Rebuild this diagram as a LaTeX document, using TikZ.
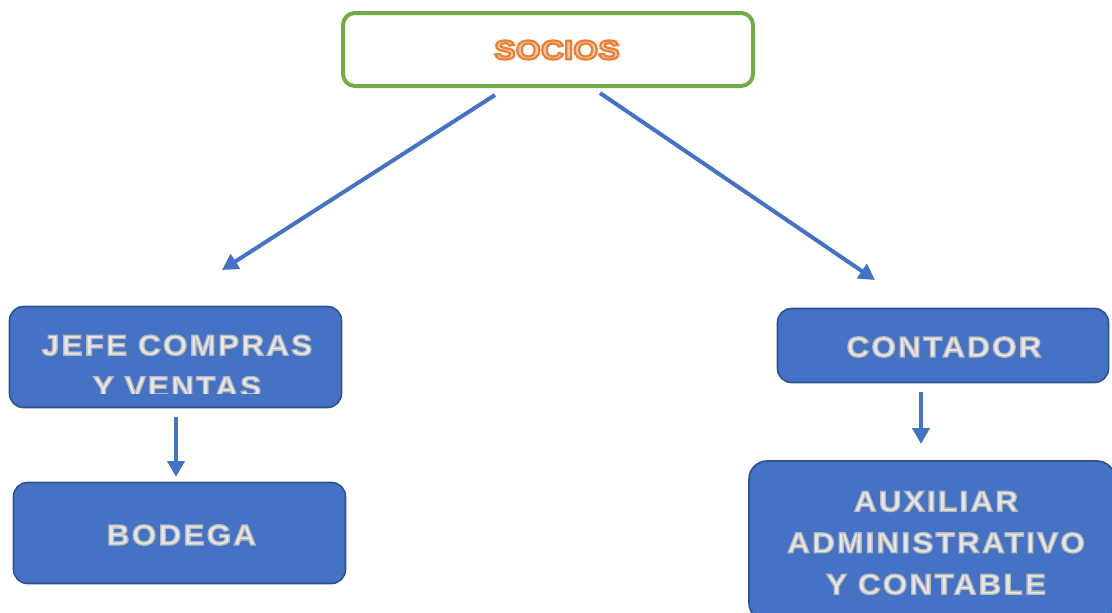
\documentclass[tikz,border=0pt]{standalone}
\usepackage{fontspec}
\setmainfont{Liberation Sans}
\newfontfamily\boxfont[FakeStretch=1.08,LetterSpace=8,
  BoldFont={Liberation Sans Bold},BoldFeatures={FakeStretch=1.08,LetterSpace=8}]{Liberation Sans}
\newfontfamily\sociosfont[FakeStretch=1.18,LetterSpace=1,
  BoldFont={Liberation Sans Bold},BoldFeatures={FakeStretch=1.18,LetterSpace=1}]{Liberation Sans}
\usetikzlibrary{arrows.meta}
\definecolor{boxblue}{HTML}{4472C4}
\definecolor{boxedge}{HTML}{2F528F}
\definecolor{sgreen}{HTML}{70AD47}
\definecolor{speach}{HTML}{F8CBAD}
\definecolor{txtgrey}{HTML}{E7E6E6}
% text drawn filled (current colour) and stroked (given RGB)
\newcommand{\outltxt}[3]{\special{pdf:literal direct 2 Tr #2 w #1 RG}#3\special{pdf:literal direct 0 Tr}}
\begin{document}
\begin{tikzpicture}[x=1pt,y=-1pt,
  bluebox/.style={draw=boxedge, line width=1.6pt, fill=boxblue, rounded corners=14pt,
    minimum width=332pt, minimum height=101pt, inner sep=0pt},
  boxtext/.style={font=\boxfont\bfseries\fontsize{29}{41.5}\selectfont, align=center,
    text=txtgrey, inner sep=0pt},
  conn/.style={draw=boxblue, line width=4pt, -{Triangle[length=16pt,width=17pt]}}]
\useasboundingbox (0,0) rectangle (1112,613);

% SOCIOS
\node[draw=sgreen, line width=4pt, fill=white, rounded corners=12pt,
  minimum width=410pt, minimum height=73pt, inner sep=0pt] (socios) at (548,49.5) {};
\node[font=\sociosfont\bfseries\fontsize{27}{30}\selectfont, text=speach, inner sep=0pt]
  (sociostxt) at (557,50) {\outltxt{0.929 0.490 0.192}{2.2}{SOCIOS}};

% boxes
\node[bluebox] (jefe) at (175.5,357) {};
\node[bluebox] (bodega) at (179.5,533) {};
\node[bluebox, minimum width=331pt, minimum height=74pt] (contador) at (943,345.5) {};
\node[bluebox, rounded corners=18pt, minimum width=366pt, minimum height=160pt] (aux) at (932,541) {};

% texts
\begin{scope}
  \clip (0,0) rectangle (1112,393);
  \node[boxtext] (jefetxt) at (177,366) {\outltxt{0.72 0.72 0.72}{1.3}{JEFE COMPRAS\\Y VENTAS}};
\end{scope}
\node[boxtext] (bodegatxt) at (181.5,535) {\outltxt{0.72 0.72 0.72}{1.3}{BODEGA}};
\node[boxtext] (contadortxt) at (944,347) {\outltxt{0.72 0.72 0.72}{1.3}{CONTADOR}};
\node[boxtext] (auxtxt) at (936,543) {\outltxt{0.72 0.72 0.72}{1.3}{AUXILIAR\\ADMINISTRATIVO\\Y CONTABLE}};

% connectors
\coordinate (a1s) at (495,95);
\coordinate (a1e) at (222,270);
\coordinate (a2s) at (600,93);
\coordinate (a2e) at (875,280);
\coordinate (a3s) at (176,417);
\coordinate (a3e) at (176,477);
\coordinate (a4s) at (921,392);
\coordinate (a4e) at (921,444);
\draw[conn] (a1s) -- (a1e);
\draw[conn] (a2s) -- (a2e);
\draw[conn] (a3s) -- (a3e);
\draw[conn] (a4s) -- (a4e);
\end{tikzpicture}
\end{document}
